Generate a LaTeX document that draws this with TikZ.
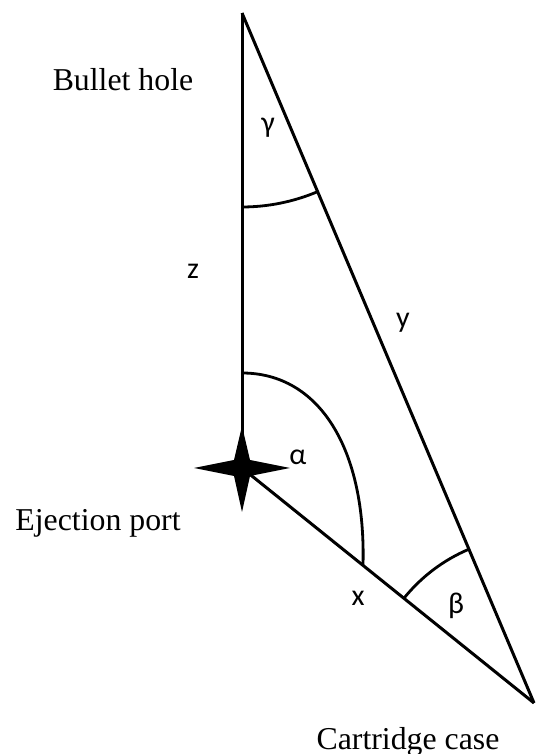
\documentclass[tikz,border=0pt]{standalone}
\usepackage{fontspec}
\setmainfont{Liberation Serif}
\newfontfamily\calfont{Carlito}
\begin{document}
\begin{tikzpicture}[
  x=0.5pt, y=0.5pt,
  side/.style={line width=1.5pt},
  angarc/.style={line width=1.4pt},
  place/.style={inner sep=0pt, font=\fontsize{15.9}{18}\selectfont},
  symb/.style={inner sep=0pt, font=\calfont\fontsize{15}{17}\selectfont}
]
  \useasboundingbox (0,0) rectangle (535,754);
  % triangle corners
  \coordinate (hole) at (242,741);
  \coordinate (port) at (242,286);
  \coordinate (case) at (534,51);

  % sides
  \draw[side] (hole) -- (port);
  \draw[side] (port) -- (case);
  \draw[side] (hole) -- (case);

  % angles
  \draw[angarc] (hole) ++(270:194) arc[start angle=270, end angle=292.94, radius=194];
  \draw[angarc] (case) ++(112.94:167) arc[start angle=112.94, end angle=141.3, radius=167];
  \draw[angarc] (242,381) .. controls (320,381) and (366,304) .. (363,189);

  % star at the ejection port
  \fill (port) +(-48,0) -- +(-8,8) -- +(0,42) -- +(8,8) -- +(48,0)
    -- +(8,-8) -- +(0,-44) -- +(-8,-8) -- cycle;

  % labels
  \node[place] (holelbl) at (123,674) {Bullet hole};
  \node[place] (portlbl) at (98,231) {Ejection port};
  \node[place] (caselbl) at (408,12) {Cartridge case};
  \node[symb] (gam) at (268,626) {γ};
  \node[symb] (zlbl) at (193,483) {z};
  \node[symb] (ylbl) at (403,431) {y};
  \node[symb] (alp) at (298,297) {α};
  \node[symb] (xlbl) at (358,156) {x};
  \node[symb] (bet) at (456,148) {β};
\end{tikzpicture}
\end{document}
